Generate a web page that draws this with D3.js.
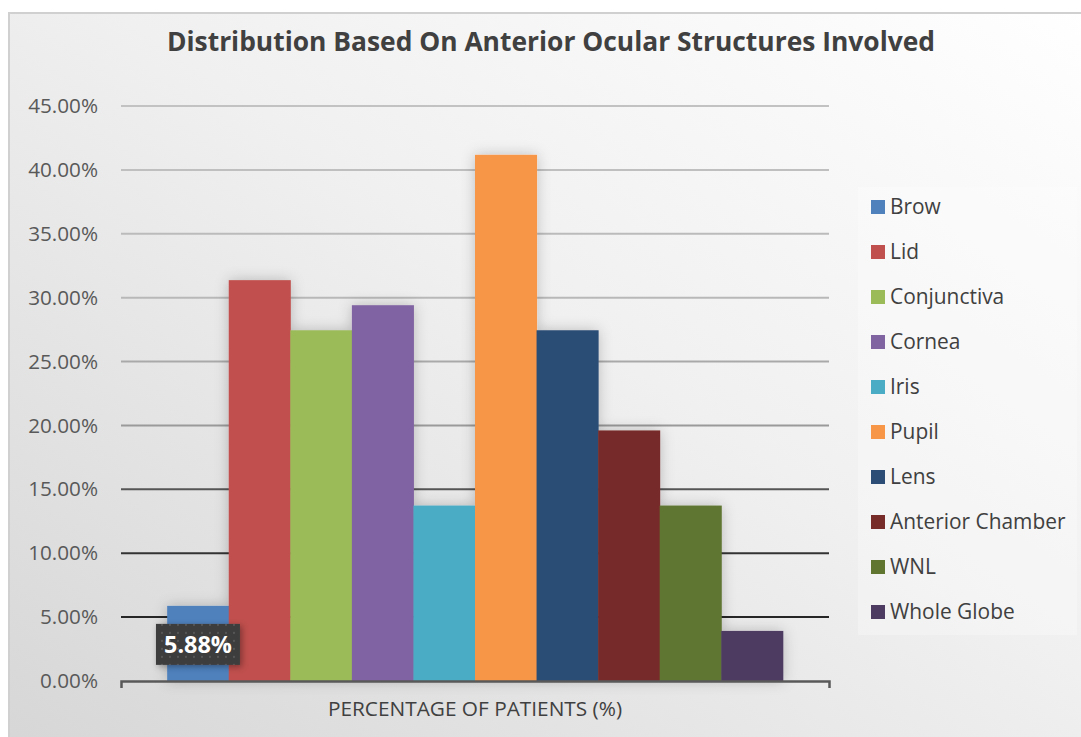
<!DOCTYPE html>
<html>
<head>
<meta charset="utf-8">
<script src="https://cdn.jsdelivr.net/npm/d3@7"></script>
<style>
  html, body { margin: 0; padding: 0; background: #fff; }
  svg { display: block; font-family: "Open Sans", "Noto Sans", sans-serif; }
</style>
</head>
<body>
<svg id="chart" width="1081" height="737"></svg>
<script>
// Share of patients by anterior ocular structure involved
const categories = ["PERCENTAGE OF PATIENTS (%)"];
const structures = ["Brow", "Lid", "Conjunctiva", "Cornea", "Iris", "Pupil", "Lens", "Anterior Chamber", "WNL", "Whole Globe"];
const percentages = [0.0588, 0.3137, 0.2745, 0.2941, 0.1373, 0.4118, 0.2745, 0.1961, 0.1373, 0.0392];
const colors = ["#4f81bd", "#c0504d", "#9bbb59", "#8064a2", "#4bacc6", "#f79646", "#2c4d75", "#772c2a", "#5f7530", "#4d3b62"];
const yTicks = [0, 0.05, 0.10, 0.15, 0.20, 0.25, 0.30, 0.35, 0.40, 0.45];
const labelledStructures = ["Brow"];
const title = "Distribution Based On Anterior Ocular Structures Involved";

const svg = d3.select("#chart");
const W = 1081, H = 737;
const plot = { left: 121, right: 829, top: 106, bottom: 681 };

const defs = svg.append("defs");

// chart area background: white at top right fading to light grey at bottom left
const bg = defs.append("linearGradient").attr("id", "bgGrad")
  .attr("x1", "1").attr("y1", "0").attr("x2", "0").attr("y2", "1");
bg.append("stop").attr("offset", "0").attr("stop-color", "#ffffff");
bg.append("stop").attr("offset", "0.45").attr("stop-color", "#f0f0f0");
bg.append("stop").attr("offset", "1").attr("stop-color", "#d6d6d6");

// soft glow around bars
const sh = defs.append("filter").attr("id", "barShadow")
  .attr("x", "-40%").attr("y", "-40%").attr("width", "180%").attr("height", "180%");
sh.append("feDropShadow").attr("dx", 0).attr("dy", 0).attr("stdDeviation", 7)
  .attr("flood-color", "#000").attr("flood-opacity", 0.22);

const lblShadow = defs.append("filter").attr("id", "lblShadow")
  .attr("x", "-30%").attr("y", "-30%").attr("width", "160%").attr("height", "160%");
lblShadow.append("feDropShadow").attr("dx", 2).attr("dy", 2).attr("stdDeviation", 3)
  .attr("flood-color", "#000").attr("flood-opacity", 0.35);

// dotted texture for the data label box
const pat = defs.append("pattern").attr("id", "dots").attr("patternUnits", "userSpaceOnUse")
  .attr("width", 8).attr("height", 8);
pat.append("rect").attr("width", 8).attr("height", 8).attr("fill", "#3d3d3d");
pat.append("rect").attr("x", 3).attr("y", 3).attr("width", 2).attr("height", 2).attr("fill", "#555");

svg.append("rect").attr("x", 0).attr("y", 0).attr("width", W).attr("height", H).attr("fill", "#ffffff");
svg.append("rect").attr("x", 9).attr("y", 13).attr("width", W + 10).attr("height", H + 10)
  .attr("fill", "url(#bgGrad)").attr("stroke", "#d0d0d0").attr("stroke-width", 2);

// scales
const y = d3.scaleLinear().domain([0, 0.45]).range([plot.bottom, plot.top]);
const x0 = d3.scaleBand().domain(categories).range([plot.left, plot.right]).paddingInner(0).paddingOuter(0);
// 150% gap width split evenly on both sides of the group
const groupPad = 1.5 / 2 / (structures.length + 1.5);
const x1 = d3.scaleBand().domain(structures)
  .range([x0(categories[0]) + x0.bandwidth() * groupPad, x0(categories[0]) + x0.bandwidth() * (1 - groupPad)])
  .padding(0);
const color = d3.scaleOrdinal().domain(structures).range(colors);

// gridlines darken toward the baseline
const gridColor = d3.scaleLinear().domain([0.05, 0.10, 0.15, 0.20, 0.30, 0.45])
  .range(["#262626", "#333333", "#555555", "#9a9a9a", "#b8b8b8", "#c2c2c2"]);
svg.append("g").selectAll("line").data(yTicks.filter(d => d > 0)).join("line")
  .attr("x1", plot.left).attr("x2", plot.right)
  .attr("y1", d => y(d)).attr("y2", d => y(d))
  .attr("stroke", d => gridColor(d)).attr("stroke-width", 2);

// y axis labels
const yAxis = svg.append("g").attr("transform", `translate(${plot.left},0)`)
  .call(d3.axisLeft(y).tickValues(yTicks).tickFormat(d3.format(".2%")).tickSize(0).tickPadding(23));
yAxis.select(".domain").remove();
yAxis.selectAll("text").attr("fill", "#595959").style("font-size", "20.7px")
  .style("font-family", "'Open Sans', sans-serif");

// bars
const rows = structures.map((s, i) => ({ name: s, value: percentages[i] }));
svg.append("g").attr("filter", "url(#barShadow)")
  .selectAll("rect").data(rows).join("rect")
  .attr("x", d => x1(d.name))
  .attr("width", x1.bandwidth() + 0.5)
  .attr("y", d => y(d.value))
  .attr("height", d => y(0) - y(d.value))
  .attr("fill", d => color(d.name));

// x axis with end ticks and category label
const xAxis = svg.append("g").attr("transform", `translate(0,${plot.bottom})`)
  .call(d3.axisBottom(x0).tickSizeInner(0).tickSizeOuter(7).tickPadding(20));
xAxis.select(".domain").attr("stroke", "#595959").attr("stroke-width", 2.5).attr("fill", "none");
xAxis.selectAll("text").attr("fill", "#404040").style("font-size", "20.8px")
  .style("font-family", "'Open Sans', sans-serif");

// data label for the Brow bar
const labelled = rows.filter(d => labelledStructures.includes(d.name));
const lg = svg.append("g").selectAll("g").data(labelled).join("g")
  .attr("transform", d => `translate(${x1(d.name) + x1.bandwidth() / 2}, ${y(d.value) + 39})`);
lg.append("rect").attr("x", -42).attr("y", -21).attr("width", 84).attr("height", 41)
  .attr("fill", "url(#dots)").attr("filter", "url(#lblShadow)");
lg.append("text").attr("text-anchor", "middle").attr("dy", "0.36em")
  .attr("fill", "#ffffff").style("font-size", "23.4px").style("font-weight", "700")
  .text(d => d3.format(".2%")(d.value));

// title
svg.append("text").attr("x", 551).attr("y", 51).attr("text-anchor", "middle")
  .attr("fill", "#404040").style("font-size", "26.4px").style("font-weight", "700")
  .text(title);

// legend
const legend = svg.append("g").attr("transform", "translate(858,187)");
legend.append("rect").attr("width", 219).attr("height", 448).attr("fill", "#ffffff").attr("opacity", 0.28);
const li = legend.selectAll("g").data(structures).join("g")
  .attr("transform", (d, i) => `translate(13, ${20 + i * 45})`);
li.append("rect").attr("x", 0).attr("y", -7).attr("width", 14).attr("height", 14).attr("fill", d => color(d));
li.append("text").attr("x", 19).attr("dy", "0.35em").attr("fill", "#404040")
  .style("font-size", "20.9px").text(d => d);
</script>
</body>
</html>
